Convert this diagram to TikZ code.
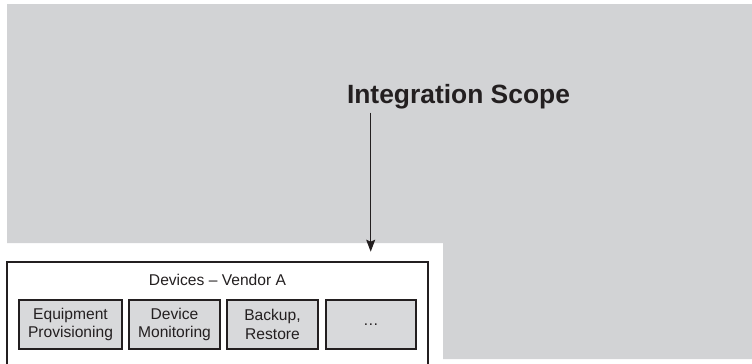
\documentclass[tikz,border=0pt]{standalone}
\usepackage{fontspec}
\setmainfont{Liberation Sans}
\usetikzlibrary{arrows.meta}
\definecolor{scopegray}{RGB}{210,211,213}
\definecolor{boxgray}{RGB}{216,217,219}
\definecolor{inkcol}{RGB}{35,31,32}
\begin{document}
\begin{tikzpicture}[x=1bp,y=-1bp,
  fnbox/.style={draw=inkcol,line width=1.1bp,fill=boxgray,minimum height=49bp,
    inner sep=0pt,align=center,text=inkcol,font=\fontsize{15.6bp}{18.3bp}\selectfont},
  titletext/.style={text=inkcol,inner sep=0pt,font=\fontsize{26.4bp}{30bp}\selectfont\bfseries},
  labeltext/.style={text=inkcol,inner sep=0pt,font=\fontsize{15.6bp}{18.3bp}\selectfont}]
\useasboundingbox (0,0) rectangle (752,363);
% integration scope area
\fill[scopegray] (7,4) -- (752,4) -- (752,359) -- (443,359) -- (443,243) -- (7,243) -- cycle;
% title
\node[titletext,anchor=base] (title) at (458.5,103.3) {Integration Scope};
\coordinate (arrowstart) at (370.7,112.7);
\coordinate (arrowend) at (370.7,251.7);
\draw[inkcol,line width=1.1bp,-{Stealth[length=12bp,width=9bp,inset=2bp]}] (arrowstart) -- (arrowend);
% outer devices box (cut off at bottom)
\draw[inkcol,line width=1.3bp] (7,366) -- (7,262) -- (428,262) -- (428,366);
\node[labeltext,anchor=base] (vendor) at (217.5,285) {Devices – Vendor A};
% function boxes
\node[fnbox,minimum width=103bp] (equip) at (70.5,324.5) {Equipment\\Provisioning};
\node[fnbox,minimum width=91bp] (monit) at (174.5,324.5) {Device\\Monitoring};
\node[fnbox,minimum width=91bp] (backup) at (272.5,324.5) {Backup,\\Restore};
\node[fnbox,minimum width=90bp] (more) at (371,324.5) {…};
\end{tikzpicture}
\end{document}
